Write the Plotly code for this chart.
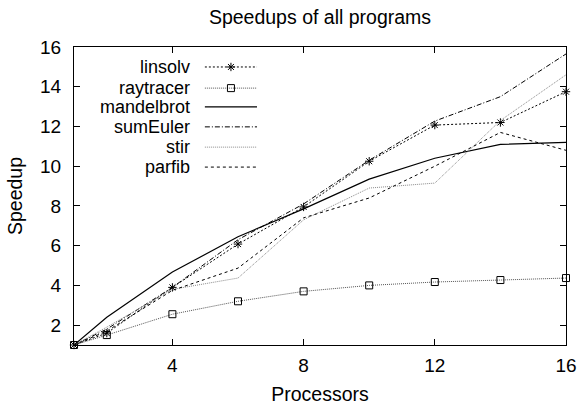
import plotly.graph_objects as go

procs = [1, 2, 4, 6, 8, 10, 12, 14, 16]
linsolv = [1, 1.6, 3.9, 6.08, 7.95, 10.25, 12.07, 12.2, 13.75]
raytracer = [1, 1.5, 2.55, 3.2, 3.7, 4.0, 4.17, 4.27, 4.37]
mandelbrot = [1, 2.4, 4.67, 6.45, 7.85, 9.35, 10.4, 11.1, 11.2]
sumEuler = [1, 1.8, 3.9, 6.3, 8.1, 10.3, 12.27, 13.5, 15.65]
stir = [1, 1.9, 3.8, 4.37, 7.3, 8.9, 9.15, 12.3, 14.6]
parfib = [1, 1.7, 3.75, 4.87, 7.4, 8.4, 10.0, 11.7, 10.8]

x_ticks = [4, 8, 12, 16]
y_ticks = [2, 4, 6, 8, 10, 12, 14, 16]

FONT = "Liberation Sans, Arial, sans-serif"

series = [
    ("linsolv", linsolv, dict(color="black", width=1, dash="2px,2px"),
     dict(symbol="asterisk-open", size=7, color="black", line=dict(color="black", width=1))),
    ("raytracer", raytracer, dict(color="#555555", width=1, dash="1px,1px"),
     dict(symbol="square-open", size=7, color="black", line=dict(color="black", width=1))),
    ("mandelbrot", mandelbrot, dict(color="black", width=1.2), None),
    ("sumEuler", sumEuler, dict(color="black", width=1, dash="5px,2px,1px,2px"), None),
    ("stir", stir, dict(color="#8a8a8a", width=1, dash="1px,1px"), None),
    ("parfib", parfib, dict(color="black", width=1, dash="3px,3px"), None),
]

fig = go.Figure()
for name, ys, line, marker in series:
    fig.add_trace(go.Scatter(
        x=procs, y=ys, name=name,
        mode="lines+markers" if marker else "lines",
        line=line, marker=marker, cliponaxis=False, showlegend=False,
    ))

# manual gnuplot-style legend (text right-aligned, sample on the right)
row_y = [0.933, 0.862, 0.799, 0.732, 0.664, 0.597]
text_x = 0.24
s0, s1 = 0.266, 0.372
for (name, ys, line, marker), yy in zip(series, row_y):
    fig.add_annotation(x=text_x, y=yy, xref="paper", yref="paper", text=name,
                       showarrow=False, xanchor="right", yanchor="middle",
                       font=dict(family=FONT, size=18, color="black"))
    fig.add_trace(go.Scatter(
        x=[s0, (s0 + s1) / 2, s1], y=[yy, yy, yy], xaxis="x2", yaxis="y2",
        mode="lines", line=line, showlegend=False, hoverinfo="skip"))
    if marker:
        fig.add_trace(go.Scatter(
            x=[(s0 + s1) / 2], y=[yy], xaxis="x2", yaxis="y2",
            mode="markers", marker=marker, showlegend=False, hoverinfo="skip"))

axis_common = dict(showline=True, linecolor="black", linewidth=1, mirror="ticks",
                   ticks="inside", ticklen=6, tickcolor="black", showgrid=False,
                   zeroline=False, automargin=False,
                   tickfont=dict(family=FONT, size=19, color="black"))

fig.update_layout(
    width=578, height=406,
    margin=dict(l=74, r=12, t=47, b=61),
    paper_bgcolor="white", plot_bgcolor="white",
    title=dict(text="Speedups of all programs", x=(74 + 566) / 2 / 578, xanchor="center",
               y=1 - 17 / 406, yanchor="middle",
               font=dict(family=FONT, size=19.5, color="black")),
    xaxis=dict(range=[1, 16], tickvals=x_ticks, ticklabelstandoff=3, **axis_common,
               title=dict(text="Processors", font=dict(family=FONT, size=19.5, color="black"),
                          standoff=12)),
    yaxis=dict(range=[1, 16], tickvals=y_ticks, ticklabelstandoff=8, **axis_common,
               title=dict(text="Speedup", font=dict(family=FONT, size=19.5, color="black"),
                          standoff=12)),
    xaxis2=dict(range=[0, 1], overlaying="x", visible=False),
    yaxis2=dict(range=[0, 1], overlaying="y", visible=False),
    showlegend=False,
)

fig.write_html("out.html")
